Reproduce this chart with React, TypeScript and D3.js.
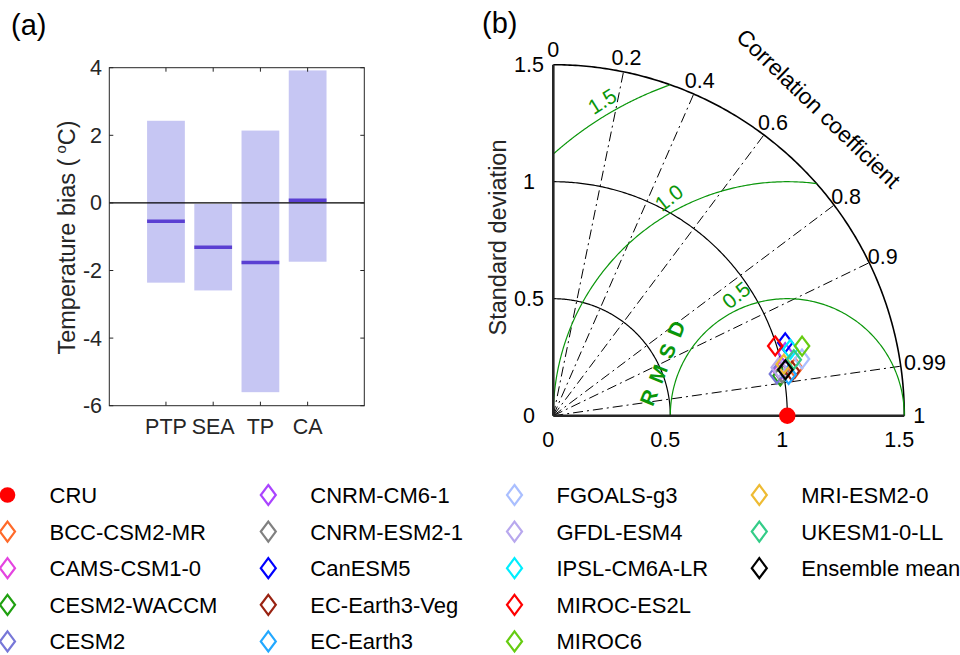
import React from "react";
import * as d3 from "d3";

// ---------- Panel (a) data ----------
const categories = ["PTP", "SEA", "TP", "CA"];
const biasMax = [2.43, -0.03, 2.14, 3.92];
const biasMin = [-2.36, -2.59, -5.6, -1.74];
const biasMedian = [-0.54, -1.31, -1.76, 0.08];
const biasTicks = [-6, -4, -2, 0, 2, 4];

// ---------- Panel (b) data ----------
const refStd = 1.0;
const modelNames = [
  "BCC-CSM2-MR", "CAMS-CSM1-0", "CESM2-WACCM", "CESM2", "CNRM-CM6-1",
  "CNRM-ESM2-1", "CanESM5", "EC-Earth3-Veg", "EC-Earth3", "FGOALS-g3",
  "GFDL-ESM4", "IPSL-CM6A-LR", "MIROC-ES2L", "MIROC6", "MRI-ESM2-0",
  "UKESM1-0-LL", "Ensemble mean",
];
const modelStd = [1.054, 0.989, 0.985, 0.972, 1.027, 0.995, 1.039, 1.038, 1.021, 1.09, 0.985, 1.052, 0.994, 1.104, 1.009, 1.055, 1.011];
const modelCorr = [0.981, 0.981, 0.985, 0.983, 0.965, 0.983, 0.954, 0.983, 0.985, 0.975, 0.978, 0.963, 0.954, 0.963, 0.976, 0.974, 0.981];
const modelColors = [
  "#ff6a2a", "#e444e0", "#1fa010", "#7777d8", "#aa44ff",
  "#808080", "#0000ff", "#992211", "#22a8ff", "#aabfff",
  "#b8a8ee", "#00eeff", "#ff0000", "#66cc11", "#eebb33",
  "#33cc88", "#000000",
];
const corrLines = [0.2, 0.4, 0.6, 0.8, 0.9, 0.99];
const corrLabels = [0, 0.2, 0.4, 0.6, 0.8, 0.9, 0.99, 1];
const stdArcs = [0.5, 1.0];
const stdTicks = [0, 0.5, 1, 1.5];
const rmsdArcs = [0.5, 1.0, 1.5];
const rmsdLabels = ["0.5", "1.0", "1.5"];

const FONT = "'Liberation Sans', Arial, Helvetica, sans-serif";

export default function App() {
  // Panel a scales
  const xA = d3.scaleLinear().domain([-0.2, 5.2]).range([109.3, 364.3]);
  const yA = d3.scaleLinear().domain([-6, 4]).range([405.7, 67.7]);
  const barW = xA(0.8) - xA(0);

  // Panel b
  const ox = 553.3, oy = 415.7;
  const rMax = 1.5;
  const r = d3.scaleLinear().domain([0, rMax]).range([0, 351]);
  const P = (x: number, y: number): [number, number] => [ox + r(x), oy - r(y)];
  const polar = (s: number, c: number): [number, number] => {
    const th = Math.acos(Math.min(1, c));
    return P(s * Math.cos(th), s * Math.sin(th));
  };
  const arcPath = (cx: number, cy: number, rad: number, a0: number, a1: number) => {
    const pts: [number, number][] = [];
    const n = 200;
    for (let i = 0; i <= n; i++) {
      const a = a0 + ((a1 - a0) * i) / n;
      pts.push(P(cx + rad * Math.cos(a), cy + rad * Math.sin(a)));
    }
    return d3.line()(pts) as string;
  };
  const rmsdPath = (R: number) => {
    let aStart = 0;
    if (refStd + R > rMax) {
      const x = (rMax * rMax - R * R + refStd * refStd) / (2 * refStd);
      const y = Math.sqrt(Math.max(0, rMax * rMax - x * x));
      aStart = Math.atan2(y, x - refStd);
    }
    let aEnd = Math.PI;
    if (refStd - R < 0) {
      const y = Math.sqrt(Math.max(0, R * R - refStd * refStd));
      aEnd = Math.atan2(y, -refStd);
    }
    return arcPath(refStd, 0, R, aStart, aEnd);
  };
  const rmsdLabelAngle = [113, 118.5, 120.5];
  const rmsdLabelRot = [-39, -38, -32];

  const tickFs = 21.5;
  const diamond = (cx: number, cy: number) =>
    `M${cx},${cy - 9.5}L${cx + 7.2},${cy}L${cx},${cy + 9.5}L${cx - 7.2},${cy}Z`;

  // Legend
  const legendItems = [{ name: "CRU", color: "#ff0000", dot: true }].concat(
    modelNames.map((n, i) => ({ name: n, color: modelColors[i], dot: false }))
  );
  const legColX = [7.5, 268.3, 514.5, 759.3];
  const legRowY = d3.range(5).map((i) => 495 + i * 36.6);

  return (
    <svg
      width={960}
      height={655}
      style={{ position: "absolute", left: 0, top: 0, background: "#fff" }}
      fontFamily={FONT}
    >
      {/* ---------------- Panel (a) ---------------- */}
      <text x={11} y={35} fontSize={29} fill="#000">(a)</text>
      {categories.map((c, i) => (
        <g key={c}>
          <rect
            x={xA(i + 1) - barW / 2}
            y={yA(biasMax[i])}
            width={barW}
            height={yA(biasMin[i]) - yA(biasMax[i])}
            fill="#c6c6f3"
          />
          <line
            x1={xA(i + 1) - barW / 2}
            x2={xA(i + 1) + barW / 2}
            y1={yA(biasMedian[i])}
            y2={yA(biasMedian[i])}
            stroke="#5a3fd2"
            strokeWidth={3.5}
          />
        </g>
      ))}
      <line x1={xA(-0.2)} x2={xA(5.2)} y1={yA(0)} y2={yA(0)} stroke="#000" strokeWidth={1.3} />
      <rect x={xA(-0.2)} y={yA(4)} width={xA(5.2) - xA(-0.2)} height={yA(-6) - yA(4)} fill="none" stroke="#262626" strokeWidth={1} />
      {biasTicks.map((t) => (
        <g key={t}>
          <line x1={xA(-0.2)} x2={xA(-0.2) + 4} y1={yA(t)} y2={yA(t)} stroke="#262626" />
          <line x1={xA(5.2)} x2={xA(5.2) - 4} y1={yA(t)} y2={yA(t)} stroke="#262626" />
          <text x={102} y={yA(t) + 7.5} textAnchor="end" fontSize={tickFs} fill="#262626">{t}</text>
        </g>
      ))}
      {categories.map((c, i) => (
        <g key={"t" + c}>
          <line x1={xA(i + 1)} x2={xA(i + 1)} y1={yA(-6)} y2={yA(-6) - 4} stroke="#262626" />
          <line x1={xA(i + 1)} x2={xA(i + 1)} y1={yA(4)} y2={yA(4) + 4} stroke="#262626" />
          <text x={xA(i + 1)} y={434} textAnchor="middle" fontSize={tickFs} fill="#262626">{c}</text>
        </g>
      ))}
      <text transform="translate(75,237.5) rotate(-90)" textAnchor="middle" fontSize={23.5} fill="#262626">
        Temperature bias (
        <tspan fontSize={15} dx={5} dy={-9}>o</tspan>
        <tspan dy={9}>C)</tspan>
      </text>

      {/* ---------------- Panel (b) ---------------- */}
      <text x={482} y={33} fontSize={29} fill="#000">(b)</text>
      {corrLines.map((c) => {
        const [x2, y2] = polar(rMax, c);
        return (
          <line key={c} x1={ox} y1={oy} x2={x2} y2={y2} stroke="#000" strokeWidth={1} strokeDasharray="10,4,2,4" />
        );
      })}
      {stdArcs.map((s) => (
        <path key={s} d={arcPath(0, 0, s, 0, Math.PI / 2)} fill="none" stroke="#000" strokeWidth={1.2} />
      ))}
      <path d={arcPath(0, 0, rMax, 0, Math.PI / 2)} fill="none" stroke="#000" strokeWidth={1.6} />
      {rmsdArcs.map((R) => (
        <path key={R} d={rmsdPath(R)} fill="none" stroke="#0a960a" strokeWidth={1.2} />
      ))}
      {rmsdArcs.map((R, i) => {
        const a = (rmsdLabelAngle[i] * Math.PI) / 180;
        const [lx, ly] = P(refStd + (R + 0.06) * Math.cos(a), (R + 0.06) * Math.sin(a));
        return (
          <text
            key={"rl" + R}
            transform={`translate(${lx},${ly}) rotate(${rmsdLabelRot[i]})`}
            textAnchor="middle"
            dy={7.5}
            fontSize={21}
            fill="#0a960a"
          >
            {rmsdLabels[i]}
          </text>
        );
      })}
      <text
        transform="translate(664,359) rotate(-68)"
        textAnchor="middle"
        dy={7.5}
        fontSize={21}
        fontWeight="bold"
        fill="#0a960a"
        letterSpacing={9}
      >
        RMSD
      </text>
      <line x1={ox} y1={oy} x2={ox} y2={oy - r(rMax)} stroke="#262626" strokeWidth={2.6} />
      <line x1={ox} y1={oy} x2={ox + r(rMax)} y2={oy} stroke="#262626" strokeWidth={2.6} />
      {stdTicks.map((t) => (
        <g key={"st" + t}>
          <text x={529} y={oy - r(t) + 7.5} textAnchor="middle" fontSize={tickFs} fill="#000">{t}</text>
          <text x={ox + r(t) - 5} y={446.5} textAnchor="middle" fontSize={tickFs} fill="#000">{t}</text>
        </g>
      ))}
      {corrLabels.map((c) => {
        const th = Math.acos(c);
        const rad = c === 0.99 ? 375.5 : 366;
        const lx = ox + rad * Math.cos(th);
        const ly = oy - rad * Math.sin(th);
        return (
          <text key={"cl" + c} x={lx} y={ly + 7.5} textAnchor="middle" fontSize={tickFs} fill="#000">
            {c}
          </text>
        );
      })}
      <text transform="translate(818,109) rotate(44)" textAnchor="middle" dy={7} fontSize={22.5} fill="#000">
        Correlation coefficient
      </text>
      <text transform="translate(506,237.5) rotate(-90)" textAnchor="middle" fontSize={23.5} fill="#262626">
        Standard deviation
      </text>
      {(() => {
        const [cx, cy] = polar(refStd, 1);
        return <circle cx={cx} cy={cy} r={8.2} fill="#ff0000" />;
      })()}
      {modelNames.map((n, i) => {
        const [cx, cy] = polar(modelStd[i], modelCorr[i]);
        return <path key={n} d={diamond(cx, cy)} fill="none" stroke={modelColors[i]} strokeWidth={2.2} />;
      })}

      {/* ---------------- Legend ---------------- */}
      {legendItems.map((it, i) => {
        const col = Math.floor(i / 5);
        const row = i % 5;
        const mx = legColX[col];
        const my = legRowY[row];
        return (
          <g key={"lg" + it.name}>
            {it.dot ? (
              <circle cx={mx} cy={my} r={7.8} fill={it.color} />
            ) : (
              <path
                d={`M${mx},${my - 10}L${mx + 7.5},${my}L${mx},${my + 10}L${mx - 7.5},${my}Z`}
                fill="none"
                stroke={it.color}
                strokeWidth={2.2}
              />
            )}
            <text x={mx + 42} y={my + 8} fontSize={22} fill="#000">{it.name}</text>
          </g>
        );
      })}
    </svg>
  );
}
